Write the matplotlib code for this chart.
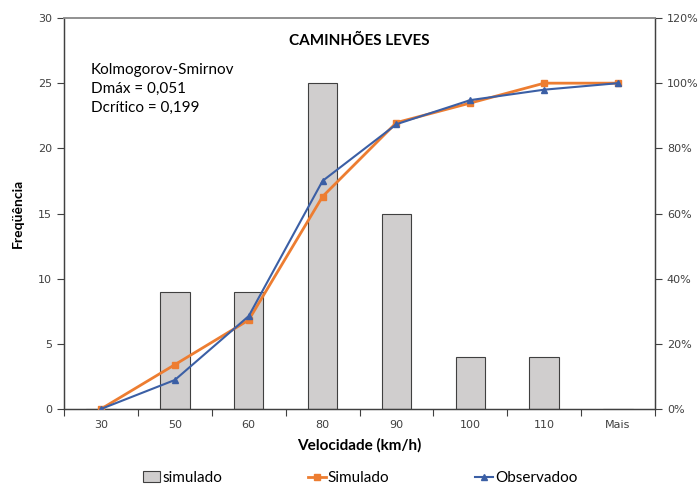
import matplotlib
matplotlib.use("Agg")
import matplotlib.pyplot as plt
from matplotlib.ticker import FuncFormatter, FixedLocator
from matplotlib.lines import Line2D
from matplotlib.patches import Patch

categories = ["30", "50", "60", "80", "90", "100", "110", "Mais"]
freq_simulado = [0, 9, 9, 25, 15, 4, 4, 0]
cum_simulado = [0.0, 13.6, 27.3, 65.2, 87.9, 93.9, 100.0, 100.0]
cum_observado = [0.0, 8.9, 28.5, 70.0, 87.4, 94.8, 98.0, 100.0]

fig = plt.figure(figsize=(6.99, 4.88), dpi=100)
ax = fig.add_axes([64/699, 1-409/488, (655-64)/699, (409-18)/488])
ax2 = ax.twinx()

x = list(range(len(categories)))
ax.bar(x, freq_simulado, width=0.4, color="#D0CECE", edgecolor="#404040", linewidth=0.8, zorder=2)
ax.set_xlim(-0.5, len(categories)-0.5)
ax.set_ylim(0, 30)
ax.set_yticks([0, 5, 10, 15, 20, 25, 30])
ax.set_xticks(x)
ax.set_xticklabels(categories)
ax.xaxis.set_minor_locator(FixedLocator([i + 0.5 for i in range(-1, len(categories))]))
ax.tick_params(axis="x", which="major", length=0, pad=8, labelsize=8, colors="#404040")
ax.tick_params(axis="x", which="minor", length=5, width=0.8, color="#404040", direction="out")
ax.tick_params(axis="y", length=5, width=0.8, color="#404040", labelsize=8, labelcolor="#404040", direction="out")

ax2.plot(x, cum_simulado, color="#ED7D31", linewidth=2, marker="s", markersize=5, zorder=3)
ax2.plot(x, cum_observado, color="#3B5FA5", linewidth=1.5, marker="^", markersize=5, zorder=4)
ax2.set_ylim(0, 120)
ax2.set_yticks([0, 20, 40, 60, 80, 100, 120])
ax2.yaxis.set_major_formatter(FuncFormatter(lambda v, p: f"{int(v)}%"))
ax2.tick_params(axis="y", length=5, width=0.8, color="#404040", labelsize=8, labelcolor="#404040", direction="out")

for a in (ax, ax2):
    for s in ("left", "right", "bottom"):
        a.spines[s].set_color("#404040")
        a.spines[s].set_linewidth(0.9)
    a.spines["top"].set_color("#909090")
    a.spines["top"].set_linewidth(1.2)

font = "Lato"
ax.text(0.5, 0.96, "CAMINHÕES LEVES", transform=ax.transAxes, ha="center", va="top",
        fontsize=11, fontweight="bold", family=font)
ax.text(0.045, 0.885, "Kolmogorov-Smirnov\nDmáx = 0,051\nDcrítico = 0,199", transform=ax.transAxes,
        ha="left", va="top", fontsize=11, family=font, linespacing=1.45)
ax.set_xlabel("Velocidade (km/h)", fontsize=11, fontweight="bold", family=font, labelpad=6)
ax.set_ylabel("Freqüência", fontsize=10, fontweight="bold", family=font, labelpad=10)

handles = [
    Patch(facecolor="#D0CECE", edgecolor="#404040", linewidth=0.8),
    Line2D([0], [0], color="#ED7D31", linewidth=2, marker="s", markersize=5),
    Line2D([0], [0], color="#3B5FA5", linewidth=1.5, marker="^", markersize=5),
]
fig.legend(handles, ["simulado", "Simulado", "Observadoo"], loc="center", bbox_to_anchor=(0.515, 1-478/488),
           ncol=3, frameon=False, prop={"family": font, "size": 11}, handlelength=1.15,
           handletextpad=0.15, columnspacing=5.6)

fig.savefig("out.png", dpi=100)
